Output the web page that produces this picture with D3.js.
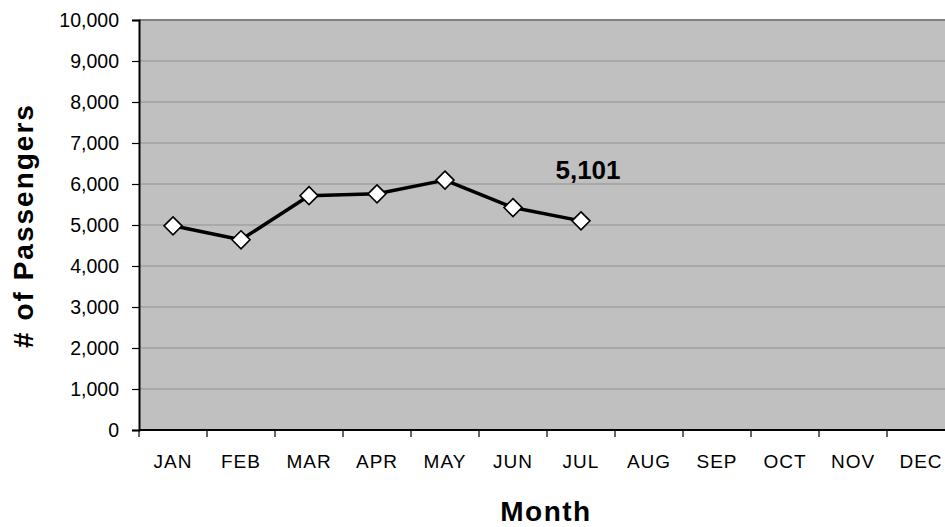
<!DOCTYPE html>
<html><head><meta charset="utf-8">
<script src="https://cdn.jsdelivr.net/npm/d3@7"></script>
<style>
html,body{margin:0;padding:0;background:#fff;}
svg{display:block;font-family:Arial,"Liberation Sans",sans-serif;}
</style></head>
<body><svg id="chart" width="945" height="527"></svg>
<script>
const months = ["JAN","FEB","MAR","APR","MAY","JUN","JUL","AUG","SEP","OCT","NOV","DEC"];
const passengers = [4980, 4640, 5715, 5760, 6095, 5425, 5101];
const yTicks = [0,1000,2000,3000,4000,5000,6000,7000,8000,9000,10000];
const labelText = "5,101";

const svg = d3.select("#chart");
const L = 139, R = 955, T = 20, B = 430;
const x = d3.scaleBand().domain(months).range([L, R]).padding(0);
const y = d3.scaleLinear().domain([0, 10000]).range([B, T]);
const fmt = d3.format(",");

svg.append("rect").attr("x", L).attr("y", T).attr("width", R - L).attr("height", B - T).attr("fill", "#c0c0c0");

// gridlines
svg.append("g").selectAll("line").data(yTicks.filter(d => d > 0 && d < 10000)).join("line")
  .attr("x1", L).attr("x2", R).attr("y1", d => y(d)).attr("y2", d => y(d))
  .attr("stroke", "#a0a0a0").attr("stroke-width", 1.5);
// top border
svg.append("line").attr("x1", L).attr("x2", R).attr("y1", y(10000)).attr("y2", y(10000))
  .attr("stroke", "#808080").attr("stroke-width", 2);

// y axis
const yAxis = d3.axisLeft(y).tickValues(yTicks).tickFormat(fmt).tickSize(7).tickPadding(13);
const gy = svg.append("g").attr("transform", `translate(${L},0)`).call(yAxis);
gy.select(".domain").attr("stroke", "#000").attr("stroke-width", 2);
gy.selectAll(".tick line").attr("stroke", "#000").attr("stroke-width", 1.2);
gy.selectAll(".tick text").attr("font-size", 19.5).attr("fill", "#000")
  .attr("font-family", "Arial, 'Liberation Sans', sans-serif").attr("dy", "0.34em");

// x axis baseline
svg.append("line").attr("x1", L).attr("x2", R).attr("y1", B).attr("y2", B).attr("stroke", "#000").attr("stroke-width", 2);
// x tick marks at band boundaries
svg.append("g").selectAll("line").data(d3.range(months.length + 1)).join("line")
  .attr("x1", i => L + i * x.step()).attr("x2", i => L + i * x.step())
  .attr("y1", B).attr("y2", B + 7).attr("stroke", "#000").attr("stroke-width", 1.2);
// x labels
svg.append("g").selectAll("text").data(months).join("text")
  .attr("x", d => x(d) + x.bandwidth() / 2).attr("y", 468)
  .attr("text-anchor", "middle").attr("font-size", 19).attr("letter-spacing", 1)
  .attr("fill", "#000").text(d => d);

// line
const pts = passengers.map((v, i) => ({m: months[i], v}));
svg.append("path").datum(pts)
  .attr("d", d3.line().x(d => x(d.m) + x.bandwidth() / 2).y(d => y(d.v)))
  .attr("fill", "none").attr("stroke", "#000").attr("stroke-width", 3.5).attr("stroke-linejoin", "round");
// markers
svg.append("g").selectAll("path").data(pts).join("path")
  .attr("transform", d => `translate(${x(d.m) + x.bandwidth() / 2},${y(d.v)})`)
  .attr("d", "M0,-9 L9,0 L0,9 L-9,0 Z")
  .attr("fill", "#fff").attr("stroke", "#000").attr("stroke-width", 1.6);

// data label
const last = pts[pts.length - 1];
svg.append("text")
  .attr("x", x(last.m) + x.bandwidth() / 2 + 7).attr("y", y(last.v) - 42)
  .attr("text-anchor", "middle").attr("font-size", 26).attr("font-weight", "bold")
  .attr("fill", "#000").text(labelText);

// axis titles
svg.append("text").attr("x", 546).attr("y", 521).attr("text-anchor", "middle")
  .attr("font-size", 28).attr("font-weight", "bold").attr("letter-spacing", 1.5).attr("fill", "#000").text("Month");
svg.append("text").attr("transform", "translate(33,225.5) rotate(-90)").attr("text-anchor", "middle")
  .attr("font-size", 28).attr("font-weight", "bold").attr("letter-spacing", 2).attr("fill", "#000").text("# of Passengers");
</script></body></html>
